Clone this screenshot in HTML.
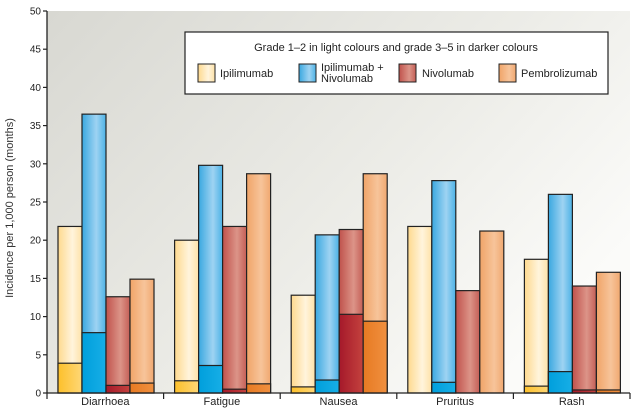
<!DOCTYPE html>
<html><head><meta charset="utf-8"><style>
body{margin:0;background:#fff;}
svg{display:block;font-family:"Liberation Sans",sans-serif;}
</style></head><body>
<svg id="c" width="639" height="410" xmlns="http://www.w3.org/2000/svg">
<defs>
<linearGradient id="bg" x1="0" y1="0" x2="1" y2="0.6">
<stop offset="0" stop-color="#d8d8d2"/><stop offset="0.6" stop-color="#ececE7"/><stop offset="1" stop-color="#fbfbf9"/></linearGradient>
<linearGradient id="g0" x1="0" x2="1"><stop offset="0" stop-color="#fed98e"/><stop offset="0.6" stop-color="#fff4dc"/><stop offset="1" stop-color="#fee2a8"/></linearGradient>
<linearGradient id="g1" x1="0" x2="1"><stop offset="0" stop-color="#3aa8e0"/><stop offset="0.6" stop-color="#9ed3f2"/><stop offset="1" stop-color="#4cb2e6"/></linearGradient>
<linearGradient id="g2" x1="0" x2="1"><stop offset="0" stop-color="#c0524c"/><stop offset="0.6" stop-color="#dc9488"/><stop offset="1" stop-color="#c45e56"/></linearGradient>
<linearGradient id="g3" x1="0" x2="1"><stop offset="0" stop-color="#f0a468"/><stop offset="0.6" stop-color="#f7c49a"/><stop offset="1" stop-color="#f0a870"/></linearGradient>
<linearGradient id="d0" x1="0" x2="1"><stop offset="0" stop-color="#fdc02a"/><stop offset="1" stop-color="#fed777"/></linearGradient>
<linearGradient id="d1" x1="0" x2="1"><stop offset="0" stop-color="#009fdc"/><stop offset="1" stop-color="#17aee6"/></linearGradient>
<linearGradient id="d2" x1="0" x2="1"><stop offset="0" stop-color="#a5192a"/><stop offset="1" stop-color="#c4423e"/></linearGradient>
<linearGradient id="d3" x1="0" x2="1"><stop offset="0" stop-color="#e77a22"/><stop offset="1" stop-color="#f09040"/></linearGradient>
</defs>
<rect x="47" y="11" width="583" height="382" fill="url(#bg)"/>
<g id="bars"></g>
<g id="axes"></g>
<g>
<rect x="185" y="32" width="423" height="62" fill="#fff" stroke="#222" stroke-width="1.2"/>
<text x="396" y="51" font-size="11" text-anchor="middle" fill="#222">Grade 1–2 in light colours and grade 3–5 in darker colours</text>
<rect x="198" y="64" width="17" height="18" fill="url(#g0)" stroke="#222"/>
<text x="220" y="77" font-size="11" fill="#222">Ipilimumab</text>
<rect x="299" y="64" width="17" height="18" fill="url(#g1)" stroke="#222"/>
<text font-size="11" fill="#222"><tspan x="321" y="71">Ipilimumab +</tspan><tspan x="321" y="82">Nivolumab</tspan></text>
<rect x="399" y="64" width="17" height="18" fill="url(#g2)" stroke="#222"/>
<text x="422" y="77" font-size="11" fill="#222">Nivolumab</text>
<rect x="499" y="64" width="17" height="18" fill="url(#g3)" stroke="#222"/>
<text x="521" y="77" font-size="11" fill="#222">Pembrolizumab</text>
</g>
<text transform="translate(13,208) rotate(-90)" font-size="11" text-anchor="middle" fill="#333">Incidence per 1,000 person (months)</text>
</svg>
<script>
const categories = ["Diarrhoea","Fatigue","Nausea","Pruritus","Rash"];
const ipiTotal = [21.8,20,12.8,21.8,17.5];
const ipiSevere = [3.9,1.6,0.8,0,0.9];
const comboTotal = [36.5,29.8,20.7,27.8,26.0];
const comboSevere = [7.9,3.6,1.7,1.4,2.8];
const nivoTotal = [12.6,21.8,21.4,13.4,14.0];
const nivoSevere = [1.0,0.5,10.3,0,0.4];
const pembroTotal = [14.9,28.7,28.7,21.2,15.8];
const pembroSevere = [1.3,1.2,9.4,0,0.4];
const yTicks = [0,5,10,15,20,25,30,35,40,45,50];

const NS="http://www.w3.org/2000/svg";
const X0=47,X1=630,Y0=393,Y1=11;
const groupW=(X1-X0)/categories.length;
function y(v){return Y0-(v/50)*(Y0-Y1);}
function gx(i){return X0+i*groupW;}
function mk(tag,attrs,parent){const e=document.createElementNS(NS,tag);for(const k in attrs)e.setAttribute(k,attrs[k]);parent.appendChild(e);return e;}
const bars=document.getElementById('bars');
const axes=document.getElementById('axes');
const series=[["ipilimumab",ipiTotal,ipiSevere],["combo",comboTotal,comboSevere],["nivolumab",nivoTotal,nivoSevere],["pembrolizumab",pembroTotal,pembroSevere]];
const bw=24;
categories.forEach((c,i)=>{
  series.forEach((s,j)=>{
    const x=gx(i)+11+j*bw;
    const t=s[1][i], sv=s[2][i];
    const r=mk('rect',{x:x,y:y(t),width:bw,height:y(0)-y(t),fill:'url(#g'+j+')',stroke:'#222','stroke-width':1.2},bars);
    
    
    if(sv>0){
      const d=mk('rect',{x:x,y:y(sv),width:bw,height:y(0)-y(sv),fill:'url(#d'+j+')',stroke:'#222','stroke-width':1.2},bars);
      
      
    }
  });
  const lb=mk('text',{x:gx(i)+groupW/2,y:405,'font-size':11,'text-anchor':'middle',fill:'#222'},axes);
  lb.textContent=c;
  
  
});
const ya=mk('line',{x1:X0,y1:Y1,x2:X0,y2:Y0,stroke:'#222','stroke-width':1.3},axes);


const xa=mk('line',{x1:X0,y1:Y0,x2:X1,y2:Y0,stroke:'#222','stroke-width':1.3},axes);


yTicks.forEach(v=>{
  mk('line',{x1:X0-4,y1:y(v),x2:X0,y2:y(v),stroke:'#222','stroke-width':1.2},axes);
  const t=mk('text',{x:X0-6,y:y(v)+3.5,'font-size':10,'text-anchor':'end',fill:'#222'},axes);
  t.textContent=v;
  
  
});
for(let i=0;i<=categories.length;i++){
  mk('line',{x1:gx(i),y1:Y0,x2:gx(i),y2:Y0+6,stroke:'#222','stroke-width':1.2},axes);
}
</script>
</body></html>
